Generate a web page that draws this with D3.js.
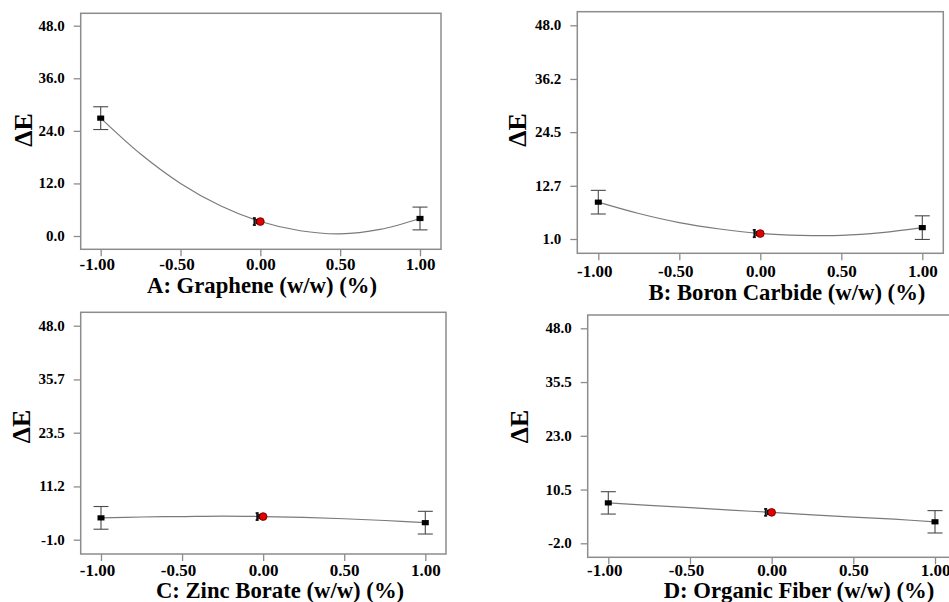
<!DOCTYPE html>
<html>
<head>
<meta charset="utf-8">
<script src="https://cdn.jsdelivr.net/npm/d3@7"></script>
<style>
    html, body { margin: 0; padding: 0; background: #fff; }
    svg { display: block; }
    text { font-family: "Liberation Serif", serif; font-weight: bold; fill: #000; }
</style>
</head>
<body>
<svg id="chart" width="949" height="602"></svg>
<script>
// design levels (coded) and sampled model curve positions
const xLevels = [-1, 0, 1];
const curveX = [-1, -0.75, -0.5, -0.25, 0, 0.25, 0.5, 0.75, 1];
const xTicks = [-1, -0.5, 0, 0.5, 1];

// A: Graphene
const grapheneMeans = [26.9, 3.3, 4.0];
const grapheneErr = [2.6, 0.8, 2.6];
const grapheneCurve = [26.9, 18.7, 12.0, 6.9, 3.3, 1.2, 0.5, 1.5, 4.0];
const grapheneTicks = [0.0, 12.0, 24.0, 36.0, 48.0];

// B: Boron Carbide
const boronMeans = [9.1, 2.2, 3.5];
const boronErr = [2.6, 0.8, 2.6];
const boronCurve = [9.1, 6.6, 4.6, 3.2, 2.2, 1.8, 1.8, 2.4, 3.5];
const boronTicks = [1.0, 12.7, 24.5, 36.2, 48.0];

// C: Zinc Borate
const zincMeans = [4.0, 4.3, 2.9];
const zincErr = [2.6, 0.8, 2.6];
const zincCurve = [4.0, 4.2, 4.3, 4.4, 4.3, 4.1, 3.8, 3.4, 2.9];
const zincTicks = [-1.0, 11.2, 23.5, 35.7, 48.0];

// D: Organic Fiber
const fiberMeans = [7.4, 5.2, 3.0];
const fiberErr = [2.6, 0.8, 2.6];
const fiberCurve = [7.4, 6.8, 6.3, 5.7, 5.2, 4.6, 4.1, 3.6, 3.0];
const fiberTicks = [-2.0, 10.5, 23.0, 35.5, 48.0];

const panels = [
    { title: 'A: Graphene (w/w) (%)', means: grapheneMeans, err: grapheneErr, curve: grapheneCurve, ticks: grapheneTicks,
      frame: [80.7, 13.3, 441, 249.3], xr: [100.7, 420], yr: [236, 25.7],
      xLabelY: 270.5, titleX: 262, titleY: 293, yTitle: [23, 130] },
    { title: 'B: Boron Carbide (w/w) (%)', means: boronMeans, err: boronErr, curve: boronCurve, ticks: boronTicks,
      frame: [577.3, 11.7, 943.3, 253.3], xr: [598.3, 922.3], yr: [239, 25.3],
      xLabelY: 277, titleX: 787, titleY: 300, yTitle: [517, 130] },
    { title: 'C: Zinc Borate (w/w) (%)', means: zincMeans, err: zincErr, curve: zincCurve, ticks: zincTicks,
      frame: [80.7, 312.3, 446, 554], xr: [101, 425.3], yr: [539.7, 325.7],
      xLabelY: 576, titleX: 280, titleY: 597.5, yTitle: [21, 426.5] },
    { title: 'D: Organic Fiber (w/w) (%)', means: fiberMeans, err: fiberErr, curve: fiberCurve, ticks: fiberTicks,
      frame: [587.7, 315, 957, 557.3], xr: [608.3, 935], yr: [543.3, 328.3],
      xLabelY: 576.5, titleX: 799, titleY: 597.5, yTitle: [519, 426.5] }
];

const svg = d3.select('#chart').style('font-family', '"Liberation Serif", serif');
const frameColor = '#8c8c8c';

panels.forEach((p) => {
    const g = svg.append('g');
    const [fx0, fy0, fx1, fy1] = p.frame;
    const x = d3.scaleLinear().domain([-1, 1]).range(p.xr);
    const y = d3.scaleLinear().domain([p.ticks[0], p.ticks[p.ticks.length - 1]]).range(p.yr);

    g.append('rect')
        .attr('x', fx0).attr('y', fy0)
        .attr('width', fx1 - fx0).attr('height', fy1 - fy0)
        .attr('fill', 'none').attr('stroke', frameColor).attr('stroke-width', 1.5);

    const yAxis = g.append('g')
        .attr('transform', `translate(${fx0},0)`)
        .call(d3.axisLeft(y).tickValues(p.ticks).tickSize(7).tickPadding(9).tickFormat((d) => d.toFixed(1)));
    yAxis.select('.domain').remove();
    yAxis.attr('font-family', null).attr('font-size', null);
    yAxis.selectAll('line').attr('stroke', frameColor).attr('stroke-width', 1.3);
    yAxis.selectAll('text')
        .style('font-family', '"Liberation Serif", serif').style('font-size', '15px')
        .attr('dy', '0.3em');

    const xAxis = g.append('g')
        .attr('transform', `translate(0,${fy1})`)
        .call(d3.axisBottom(x).tickValues(xTicks).tickSize(7).tickFormat((d) => d.toFixed(2)));
    xAxis.select('.domain').remove();
    xAxis.attr('font-family', null).attr('font-size', null);
    xAxis.selectAll('line').attr('stroke', frameColor).attr('stroke-width', 1.3);
    // the minus sign hangs left of the tick, the digits stay centred
    xAxis.selectAll('text')
        .style('font-family', '"Liberation Serif", serif').style('font-size', '17px')
        .attr('x', (d) => (d < 0 ? -4 : 0))
        .attr('y', p.xLabelY - fy1).attr('dy', null);

    // model curve
    g.append('path')
        .datum(curveX.map((cx, i) => [cx, p.curve[i]]))
        .attr('fill', 'none').attr('stroke', '#7a7a7a').attr('stroke-width', 1.2)
        .attr('d', d3.line().x((d) => x(d[0])).y((d) => y(d[1])).curve(d3.curveCatmullRom));

    // error bars and design points at -1 and +1
    xLevels.forEach((lv, i) => {
        if (lv === 0) return;
        const cx = x(lv);
        const top = y(p.means[i] + p.err[i]);
        const bot = y(p.means[i] - p.err[i]);
        const eb = g.append('g').attr('stroke', '#4a4a4a').attr('stroke-width', 1.1);
        eb.append('line').attr('x1', cx).attr('x2', cx).attr('y1', top).attr('y2', bot);
        eb.append('line').attr('x1', cx - 7.5).attr('x2', cx + 7.5).attr('y1', top).attr('y2', top);
        eb.append('line').attr('x1', cx - 7.5).attr('x2', cx + 7.5).attr('y1', bot).attr('y2', bot);
        g.append('rect')
            .attr('x', cx - 3.5).attr('y', y(p.means[i]) - 2.6)
            .attr('width', 7).attr('height', 5.2).attr('fill', '#000');
    });

    // centre point: small black bar and marker behind the red run marker
    const ci = xLevels.indexOf(0);
    const c0 = x(0);
    const cy = y(p.means[ci]);
    const ct = y(p.means[ci] + p.err[ci]);
    const cb = y(p.means[ci] - p.err[ci]);
    const cg = g.append('g').attr('stroke', '#111').attr('stroke-width', 1.8);
    cg.append('line').attr('x1', c0 - 6).attr('x2', c0 - 6).attr('y1', ct).attr('y2', cb);
    cg.append('line').attr('x1', c0 - 7.5).attr('x2', c0 - 4.5).attr('y1', ct).attr('y2', ct);
    cg.append('line').attr('x1', c0 - 7.5).attr('x2', c0 - 4.5).attr('y1', cb).attr('y2', cb);
    g.append('rect').attr('x', c0 - 5).attr('y', cy - 2.6).attr('width', 5).attr('height', 5.2).attr('fill', '#000');
    g.append('circle')
        .attr('cx', c0).attr('cy', cy).attr('r', 3.9)
        .attr('fill', '#e00000').attr('stroke', '#5a0000').attr('stroke-width', 0.8);

    // axis titles
    g.append('text')
        .attr('x', p.titleX).attr('y', p.titleY)
        .attr('text-anchor', 'middle')
        .style('font-family', '"Liberation Serif", serif').style('font-size', '22.7px')
        .text(p.title);

    g.append('text')
        .attr('transform', `translate(${p.yTitle[0] + 9},${p.yTitle[1]}) rotate(-90)`)
        .attr('text-anchor', 'middle')
        .style('font-family', '"Liberation Serif", serif').style('font-size', '26px')
        .text('ΔE');
});
</script>
</body>
</html>
